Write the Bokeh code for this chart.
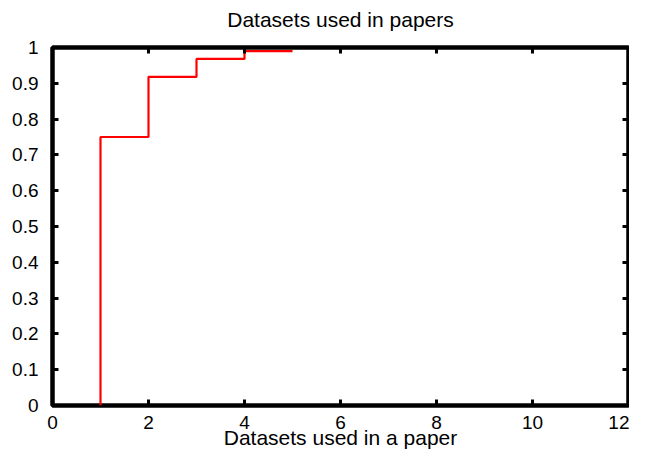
from bokeh.plotting import figure
from bokeh.models import Range1d, FixedTicker, LinearAxis
from bokeh.embed import file_html
from bokeh.resources import INLINE

# data
datasets_x = [1, 1, 2, 3, 4, 5]
cdf_y = [0.0, 0.75, 0.918, 0.968, 0.99, 0.99]
x_ticks = [0, 2, 4, 6, 8, 10, 12]
x_tick_labels = ["0", "2", "4", "6", "8", "10", "12"]
y_ticks = [0, 0.1, 0.2, 0.3, 0.4, 0.5, 0.6, 0.7, 0.8, 0.9, 1.0]
y_tick_labels = ["0", "0.1", "0.2", "0.3", "0.4", "0.5", "0.6", "0.7", "0.8", "0.9", "1"]
title_text = "Datasets used in papers"
x_label_text = "Datasets used in a paper"

FONT = "Liberation Sans"

p = figure(width=629, height=454, output_backend="svg", toolbar_location=None,
           x_range=Range1d(0, 12), y_range=Range1d(0, 1),
           min_border_left=52, min_border_right=1, min_border_top=47, min_border_bottom=49)
p.frame_width = 576
p.frame_height = 358

p.xgrid.visible = False
p.ygrid.visible = False
p.outline_line_color = "black"
p.outline_line_width = 4.5
p.background_fill_color = "white"
p.border_fill_color = "white"

p.step(datasets_x, cdf_y, mode="after", line_color="#ff0000", line_width=2.2)

def style(ax, ticks, labels):
    ax.ticker = FixedTicker(ticks=ticks)
    ax.major_label_overrides = {t: l for t, l in zip(ticks, labels)}
    ax.axis_line_color = None
    ax.major_tick_in = 6
    ax.major_tick_out = 0
    ax.major_tick_line_width = 3
    ax.major_tick_line_color = "black"
    ax.minor_tick_line_color = None
    ax.major_label_text_font = FONT
    ax.major_label_text_font_size = "19px"
    ax.major_label_text_color = "black"
    ax.axis_label_text_font = FONT
    ax.axis_label_text_font_size = "21px"
    ax.axis_label_text_font_style = "normal"
    ax.axis_label_text_color = "black"

style(p.xaxis[0], x_ticks, x_tick_labels)
style(p.yaxis[0], y_ticks, y_tick_labels)
p.xaxis[0].axis_label = x_label_text
p.xaxis[0].major_label_standoff = 10
p.xaxis[0].axis_label_standoff = -6
p.yaxis[0].major_label_standoff = 14

top = LinearAxis()
style(top, x_ticks, x_tick_labels)
top.major_label_text_color = None
top.major_label_text_font_size = "0px"
top.major_label_standoff = 0
top.axis_label = title_text
top.axis_label_standoff = 17
p.add_layout(top, "above")
right = LinearAxis()
style(right, y_ticks, y_tick_labels)
right.major_label_text_color = None
right.major_label_text_font_size = "0px"
right.major_label_standoff = 0
p.add_layout(right, "right")

open("out.html", "w").write(file_html(p, INLINE))
